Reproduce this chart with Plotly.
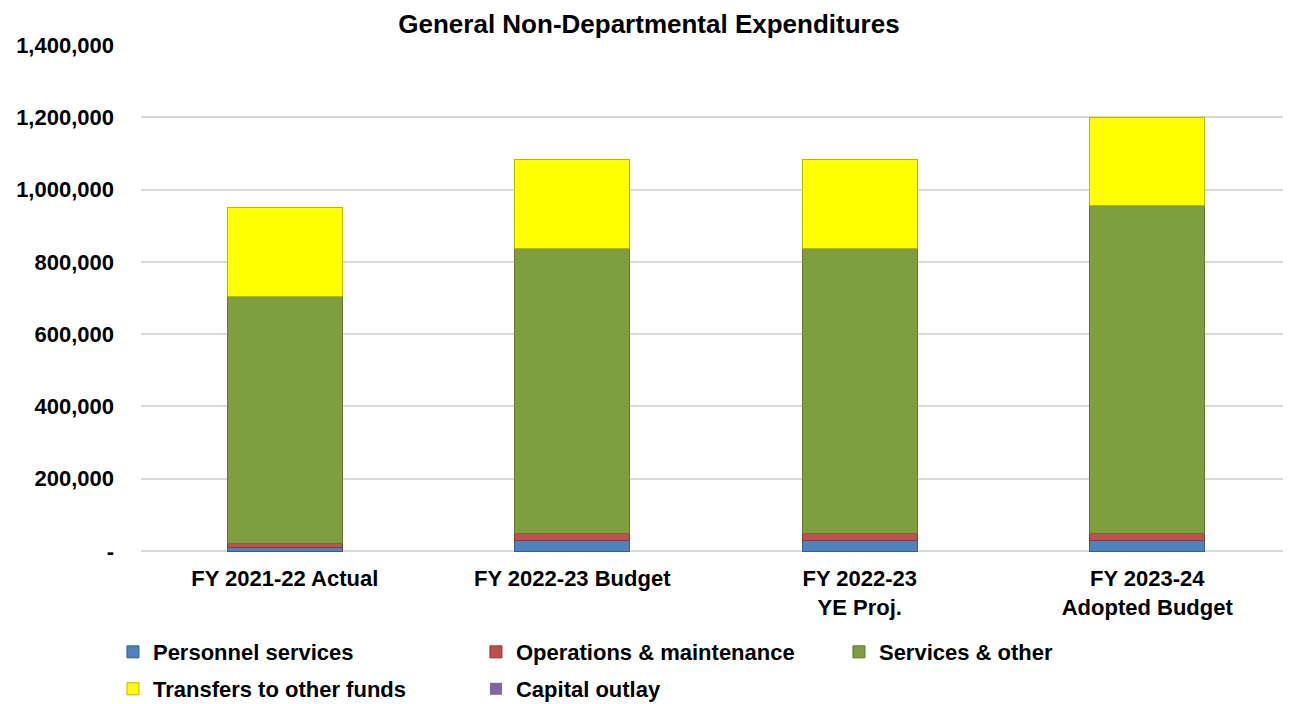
import plotly.graph_objects as go

# Categories and series values
categories = [
    "FY 2021-22 Actual",
    "FY 2022-23 Budget",
    "FY 2022-23<br>YE Proj.",
    "FY 2023-24<br>Adopted Budget",
]
personnel = [10000, 30000, 30000, 30000]
operations = [10000, 18000, 18000, 18000]
services = [685000, 789000, 789000, 908000]
transfers = [244000, 245000, 245000, 244000]
capital = [0, 0, 0, 0]

y_ticks = [0, 200000, 400000, 600000, 800000, 1000000, 1200000, 1400000]
y_labels = ["-"] + [f"{v:,}" for v in y_ticks[1:]]

FONT = "Liberation Sans, Arial, sans-serif"

# name, values, fill, edge, legend row
series = [
    ("Personnel services", personnel, "#4F81BD", "#385D8A", "legend"),
    ("Operations & maintenance", operations, "#C0504D", "#8C3836", "legend"),
    ("Services & other", services, "#7F9E40", "#5E7630", "legend"),
    ("Transfers to other funds", transfers, "#FFFF00", "#B8B800", "legend2"),
    ("Capital outlay", capital, "#8064A2", "#5C4776", "legend2"),
]

fig = go.Figure()
for name, values, color, edge, leg in series:
    fig.add_trace(go.Bar(
        name=f"<b>{name}</b>",
        x=categories,
        y=values,
        legend=leg,
        marker=dict(color=color, line=dict(color=edge, width=1 if any(values) else 0)),
    ))

# the page body has an 8px margin, so the layout is shifted back by 8px
legend_style = dict(
    orientation="h",
    xref="container", yref="container",
    x=0.0813, xanchor="left",
    yanchor="top",
    entrywidth=318,
    entrywidthmode="pixels",
    traceorder="normal",
    font=dict(family=FONT, size=22, color="black"),
    bgcolor="rgba(0,0,0,0)",
)

fig.update_layout(
    barmode="stack",
    bargap=0.6,
    width=1291,
    height=704,
    paper_bgcolor="white",
    plot_bgcolor="white",
    font=dict(family=FONT, size=22, color="black"),
    margin=dict(l=133, r=8, t=36, b=160),
    title=dict(
        text="<b>General Non-Departmental Expenditures</b>",
        x=0.4965, xanchor="center",
        y=0.978, yanchor="middle",
        font=dict(family=FONT, size=26, color="black"),
    ),
    xaxis=dict(
        tickfont=dict(family=FONT, size=22, color="black"),
        tickprefix="<b>", ticksuffix="</b>",
        showgrid=False,
        showline=False,
        ticks="",
        ticklabelstandoff=11,
    ),
    yaxis=dict(
        range=[-2500, 1402500],
        tickvals=y_ticks,
        ticktext=[f"<b>{t}</b>" for t in y_labels],
        tickfont=dict(family=FONT, size=22, color="black"),
        showgrid=True,
        gridcolor="#D9D9D9",
        gridwidth=2,
        zeroline=True,
        zerolinecolor="#D9D9D9",
        zerolinewidth=2,
        ticks="",
        ticklabelstandoff=26,
    ),
    legend=dict(legend_style, y=0.115),
    legend2=dict(legend_style, y=0.0625),
)

fig.write_html("out.html")
